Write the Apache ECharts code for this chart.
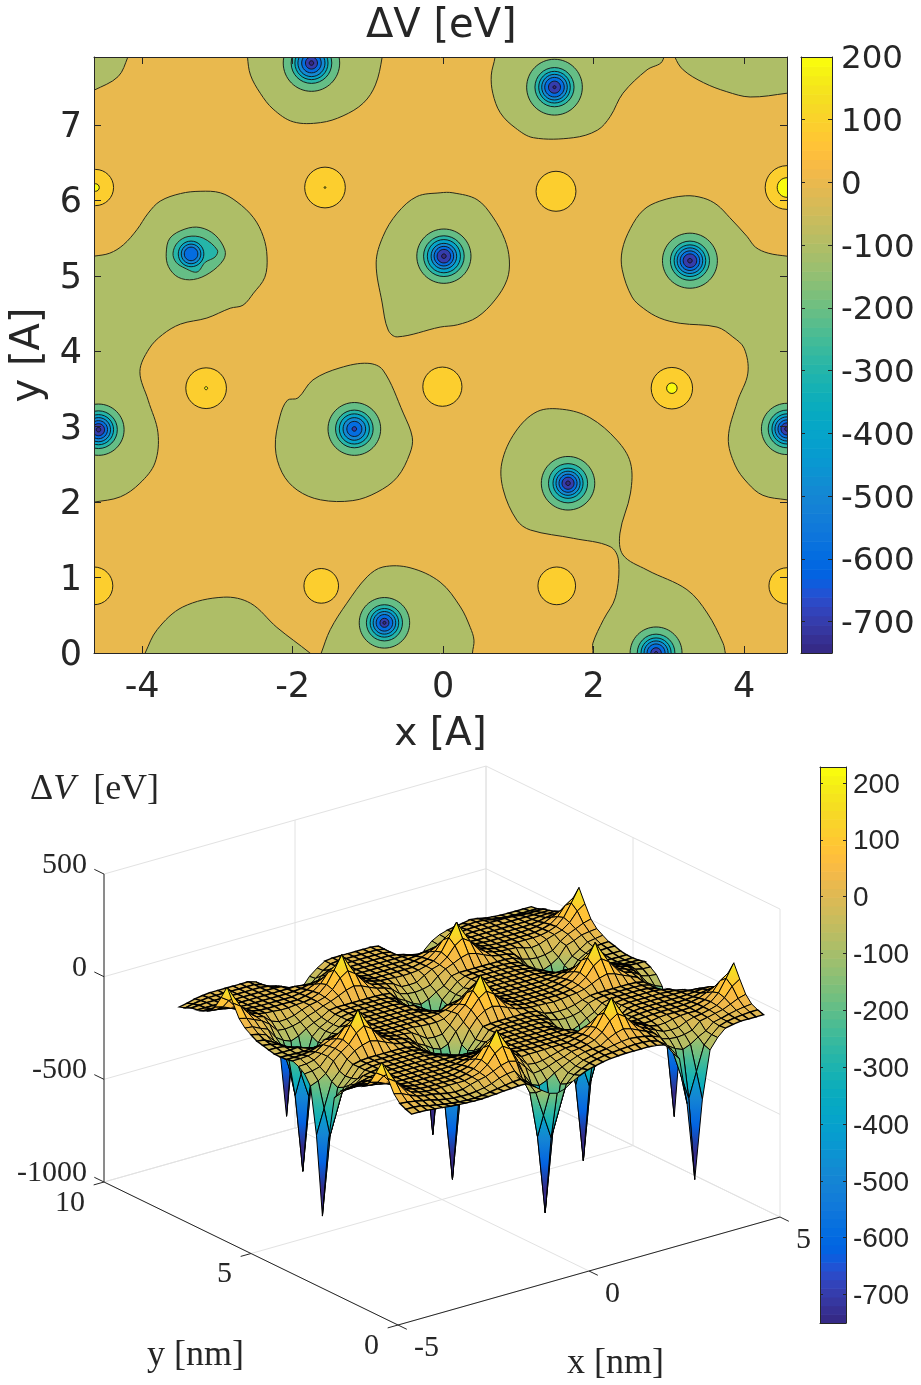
<!DOCTYPE html>
<html><head><meta charset="utf-8">
<style>html,body{margin:0;padding:0;background:#fff}#c{width:921px;height:1385px}</style>
<script src="https://cdn.jsdelivr.net/npm/echarts@6/dist/echarts.min.js"></script>
</head><body><div id="c"></div>
<script>
// ---------- tick labels ----------
const mapXTicks=[-4,-2,0,2,4];
const mapYTicks=[0,1,2,3,4,5,6,7];
const barTicks=[200,100,0,-100,-200,-300,-400,-500,-600,-700];
const surfXTicks=[-5,0,5];
const surfYTicks=[0,5,10];
const surfZTicks=[-1000,-500,0,500];

// ---------- zero-level contour regions (x, y in angstrom) ----------
const lobeA=[[-4.8,7.4],[-4.64,7.46],[-4.32,7.64],[-4.19,7.9],[-4.15,8.05],[-4.8,8.05]];
const lobeB=[[-2.6,8.05],[-2.6,7.9],[-2.56,7.66],[-2.43,7.42],[-2.26,7.21],[-1.99,7.04],[-1.63,7.03],[-1.33,7.12],[-1.06,7.29],[-.9,7.53],[-.81,7.9],[-.81,8.05]];
const lobeC=[[.69,8.05],[.69,7.9],[.64,7.66],[.66,7.42],[.76,7.16],[.96,6.96],[1.2,6.83],[1.73,6.83],[2.05,6.93],[2.22,7.11],[2.39,7.42],[2.71,7.73],[2.91,7.84],[2.91,8.05]];
const lobeD=[[3.05,8.05],[3.08,7.9],[3.19,7.73],[3.46,7.56],[3.77,7.44],[4.08,7.37],[4.57,7.42],[4.75,7.45],[4.75,8.05]];
const lobeE=[[-4.8,5.24],[-4.64,5.26],[-4.43,5.3],[-4.25,5.41],[-4.07,5.61],[-3.92,5.83],[-3.76,5.99],[-3.49,6.09],[-3.23,6.12],[-2.96,6.1],[-2.74,5.98],[-2.52,5.77],[-2.39,5.52],[-2.34,5.25],[-2.37,4.98],[-2.52,4.77],[-2.66,4.61],[-2.83,4.57],[-3.14,4.44],[-3.49,4.36],[-3.73,4.22],[-3.91,4.03],[-4.03,3.73],[-3.92,3.35],[-3.79,2.92],[-3.83,2.52],[-4.03,2.25],[-4.29,2.07],[-4.64,2],[-4.8,1.98]];
const lobeF=[[-.04,6.1],[-.35,6.05],[-.61,5.83],[-.8,5.52],[-.89,5.17],[-.81,4.64],[-.73,4.28],[-.61,4.19],[-.04,4.32],[.19,4.35],[.45,4.45],[.69,4.68],[.85,4.95],[.88,5.21],[.82,5.48],[.66,5.78],[.45,6.01],[.13,6.1]];
const lobeG=[[4.75,5.24],[4.57,5.26],[4.32,5.3],[4.15,5.38],[4.04,5.52],[3.81,5.77],[3.64,5.94],[3.46,6.03],[3.22,6.06],[2.88,5.99],[2.66,5.87],[2.49,5.63],[2.38,5.34],[2.38,5.08],[2.51,4.72],[2.66,4.57],[2.88,4.44],[3.15,4.37],[3.64,4.32],[3.85,4.19],[4,4.04],[4.05,3.71],[3.91,3.33],[3.79,2.85],[3.88,2.49],[4.05,2.25],[4.25,2.09],[4.57,2.03],[4.75,2.01]];
const lobeH=[[-.8,3.75],[-1,3.84],[-1.37,3.78],[-1.73,3.62],[-1.93,3.38],[-2.07,3.35],[-2.17,3.13],[-2.23,2.73],[-2.14,2.39],[-1.94,2.16],[-1.63,2.03],[-1.2,2.02],[-.88,2.13],[-.61,2.33],[-.44,2.65],[-.41,2.86],[-.53,3.18]];
const lobeI=[[1.95,-.15],[1.99,0],[1.99,.13],[2.13,.44],[2.29,.74],[2.33,1.23],[2.22,1.41],[1.73,1.52],[1.16,1.63],[.98,1.76],[.8,2.16],[.78,2.52],[.96,2.93],[1.25,3.2],[1.59,3.23],[1.95,3.12],[2.31,2.82],[2.49,2.52],[2.49,2.12],[2.35,1.59],[2.39,1.3],[2.71,1.1],[3.24,.84],[3.51,.53],[3.72,.13],[3.75,0],[3.78,-.15]];
const lobeJ=[[-1.68,-.15],[-1.62,0],[-1.5,.31],[-1.28,.66],[-1.01,1.01],[-.8,1.14],[-.44,1.13],[-.04,.94],[.23,.61],[.36,.34],[.41,.17],[.39,0],[.39,-.15]];
const lobeK=[[-4.02,-.15],[-3.96,0],[-3.8,.31],[-3.46,.61],[-2.92,.74],[-2.56,.66],[-2.21,.34],[-1.77,0],[-1.6,-.15]];
const lobes=[lobeA,lobeB,lobeC,lobeD,lobeE,lobeF,lobeG,lobeH,lobeI,lobeJ,lobeK];
// the one well whose outer contours are not round
const well3Contour100=[[-3.68,5.3],[-3.63,5.5],[-3.43,5.62],[-3.23,5.64],[-3.03,5.54],[-2.9,5.34],[-2.92,5.21],[-3.1,5.04],[-3.32,4.95],[-3.52,4.98],[-3.65,5.12]];
const well3Contour200=[[-3.59,5.3],[-3.53,5.44],[-3.39,5.52],[-3.19,5.5],[-3,5.34],[-3.03,5.25],[-3.16,5.18],[-3.27,5.05],[-3.43,5.1],[-3.55,5.18]];

// ---------- wells: centre and contour radii at -100 ... -700 ----------
const ringLevels=[-100,-200,-300,-400,-500,-600,-700];
const wellX=[-1.75,1.48,-3.35,.01,3.28,-4.58,4.57,-1.18,1.66,-.78,2.83];
const wellY=[7.82,7.5,5.29,5.26,5.2,2.96,2.97,2.97,2.25,.4,0];
const wellRadii=[
[.375,.27,.22,.18,.13,.08,.03],[.37,.26,.21,.17,.13,.08,.02],[0,0,.17,.13,.09,0,0],
[.36,.27,.22,.17,.13,.09,.03],[.365,.26,.21,.17,.13,.09,.03],[.34,.25,.2,.16,.12,.08,.03],
[.34,.25,.2,.16,.12,.08,.03],[.35,.25,.2,.15,.1,.03,0],[.355,.26,.2,.16,.12,.08,.03],
[.335,.24,.19,.15,.11,.06,.02],[.345,.25,.2,.16,.12,.07,.02]];

// ---------- positive bumps: centre and radii of the +100 and +200 contours ----------
const bumpX=[-4.62,-1.57,1.5,4.57,-3.15,-.01,3.04,-4.64,-1.62,1.51,4.57];
const bumpY=[6.17,6.17,6.12,6.17,3.51,3.53,3.51,.89,.89,.89,.89];
const bumpR100=[.24,.27,.265,.29,.27,.26,.275,.25,.23,.25,.24];
const bumpR200=[.05,.012,0,.13,.02,0,.07,0,0,0,0];

// ---------- surface height rows, bottom row first; 47 samples along x, 40 rows along y ----------
const zRow00=[8,8,6,2,-2,-6,-10,-12,-14,-14,-12,-10,-6,-4,-1,-2,-25,-55,-80,-90,-80,-55,-35,-18,-10,-1,5,8,10,10,10,10,6,-2,-35,-90,-320,-700,-320,-90,-40,-5,3,8,8,8,8];
const zRow01=[18,17,14,3,-3,-10,-15,-20,-22,-22,-20,-14,-8,-2,4,6,-20,-80,-200,-320,-200,-80,-46,-26,-10,-1,6,10,14,17,18,17,14,2,-25,-80,-200,-320,-200,-80,-40,-8,4,10,14,17,18];
const zRow02=[32,28,22,14,8,-4,-10,-15,-18,-18,-14,-8,2,18,28,32,-15,-95,-320,-700,-320,-95,-50,-28,-10,-1,8,14,22,28,32,28,22,12,-3,-55,-80,-95,-80,-55,-36,-4,4,14,22,28,32];
const zRow03=[65,55,38,22,14,10,2,-6,-10,-8,4,14,22,38,55,65,55,-20,-80,-95,-80,-55,-36,-18,-4,6,10,14,38,55,65,55,38,22,2,-36,-46,-50,-46,-36,-3,5,14,22,38,55,65];
const zRow04=[125,100,55,28,17,10,8,8,8,8,8,17,28,55,100,125,100,30,-10,-50,-46,-36,-22,-12,3,8,17,28,55,100,125,100,55,28,10,-8,-25,-28,-26,-8,3,8,17,28,55,100,125];
const zRow05=[190,125,65,32,18,10,8,8,8,8,10,18,32,65,125,190,125,65,20,-20,-26,-22,-12,-2,6,8,18,32,65,125,190,125,65,32,16,-2,-10,-8,0,6,8,8,18,32,65,125,190];
const zRow06=[125,100,55,28,17,10,8,8,8,8,8,17,28,55,100,125,100,55,28,3,5,5,6,8,8,8,17,28,55,100,125,100,55,28,12,-3,-2,5,8,8,8,10,17,28,55,100,125];
const zRow07=[65,55,38,22,14,10,8,8,8,8,8,14,22,38,55,65,55,38,22,14,10,8,8,8,8,8,14,22,38,55,65,55,38,22,2,1,4,6,8,8,8,10,14,22,38,55,65];
const zRow08=[32,28,22,14,10,8,8,8,8,8,8,10,14,22,28,32,28,22,14,10,8,8,8,8,8,8,8,8,2,-15,-46,-50,-46,-36,-18,1,5,8,8,8,8,8,10,14,22,28,32];
const zRow09=[18,17,14,10,8,8,8,8,8,8,8,8,10,14,17,18,17,14,10,8,8,8,8,8,8,8,8,8,-3,-45,-80,-95,-80,-55,-36,-3,4,8,8,8,8,8,8,10,14,17,18];
const zRow10=[-3,3,8,8,8,8,8,8,8,8,8,8,8,8,5,3,1,1,3,5,8,8,8,8,8,8,8,-2,-30,-80,-200,-320,-200,-80,-46,-22,3,8,8,8,8,8,8,8,6,3,-2];
const zRow11=[-28,-26,-8,2,5,8,8,8,8,8,8,8,8,1,-8,-18,-26,-28,-26,-18,3,8,8,8,8,8,5,-4,-50,-95,-320,-700,-320,-95,-50,-28,4,8,8,8,8,8,5,3,-4,-26,-28];
const zRow12=[-50,-46,-36,-6,2,6,8,8,8,8,8,8,2,-6,-18,-36,-46,-50,-46,-10,2,8,8,8,8,8,8,2,-20,-80,-200,-320,-200,-80,-46,-8,3,8,8,8,8,8,3,-6,-36,-46,-50];
const zRow13=[-95,-80,-55,-36,-3,6,8,8,8,8,8,6,-2,-18,-36,-55,-80,-95,-80,-55,-36,2,8,8,8,8,8,3,-6,-55,-80,-95,-80,-55,-36,-3,5,8,8,8,8,5,-3,-36,-55,-80,-95];
const zRow14=[-320,-200,-80,-46,-3,5,8,8,8,8,8,5,-3,-26,-46,-80,-200,-320,-200,-80,-46,-2,6,8,8,8,8,6,-3,-36,-46,-50,-46,-36,-8,3,8,8,8,8,8,6,-2,-46,-80,-200,-320];
const zRow15=[-700,-320,-95,-50,-4,5,8,8,8,8,8,5,-3,-28,-50,-95,-320,-700,-320,-95,-50,2,6,8,8,8,8,8,4,-18,-26,-28,-26,-18,-5,5,8,8,8,8,8,6,-2,-50,-95,-320,-700];
const zRow16=[-320,-200,-80,-40,8,38,55,65,55,38,22,10,8,-15,-46,-80,-200,-320,-200,-80,-15,30,55,65,55,38,22,14,8,6,5,2,5,10,14,22,38,55,65,55,38,22,6,-40,-80,-200,-320];
const zRow17=[-95,-80,-55,-5,28,55,100,125,100,55,28,17,10,-2,-36,-55,-80,-95,-80,-30,6,55,100,125,100,55,28,17,10,8,8,8,8,10,17,28,55,100,125,100,55,28,17,-5,-55,-80,-95];
const zRow18=[-50,-46,-36,4,32,65,125,190,125,65,32,18,10,8,3,-20,-46,-50,-46,-12,32,65,125,190,125,65,32,18,10,8,8,8,8,10,18,32,65,125,190,125,65,32,18,2,-36,-46,-50];
const zRow19=[-28,-26,-18,3,28,55,100,125,100,55,28,17,10,8,8,5,1,-2,-2,4,28,55,100,125,100,55,28,17,10,8,8,8,8,10,17,28,55,100,125,100,55,28,17,8,-18,-26,-28];
const zRow20=[-15,-15,-12,-3,22,38,55,65,55,38,22,14,10,8,8,8,8,8,8,14,22,38,55,65,55,38,22,14,10,8,8,8,8,8,14,22,38,55,65,55,38,22,14,2,-12,-15,-15];
const zRow21=[-22,-22,-20,-15,-3,22,28,32,28,22,14,10,8,8,8,8,8,8,8,6,2,22,28,32,28,22,14,10,8,8,8,8,8,8,10,14,22,28,32,28,22,14,3,-8,-20,-22,-22];
const zRow22=[-25,-26,-28,-28,-25,-20,-10,3,12,10,8,8,8,8,8,8,8,8,8,1,-10,-18,-20,-15,-10,3,8,8,8,8,8,8,8,8,8,8,8,8,0,-5,-10,-12,-15,-20,-24,-26,-25];
const zRow23=[-25,-26,-25,-22,-36,-46,-50,-46,-36,-3,3,8,8,8,8,8,8,8,4,-8,-22,-36,-46,-50,-46,-36,-2,6,8,8,8,8,8,8,8,3,-3,-36,-46,-50,-46,-36,-18,-20,-24,-25,-25];
const zRow24=[-18,-18,-22,-36,-55,-80,-95,-80,-55,-36,-5,3,8,8,8,8,8,8,6,-1,-25,-55,-80,-95,-80,-55,-20,1,8,8,8,8,8,8,8,1,-12,-55,-80,-95,-80,-55,-36,-20,-20,-20,-20];
const zRow25=[-10,-15,-26,-46,-80,-200,-320,-200,-80,-46,-26,-2,5,8,8,8,8,8,3,-18,-46,-80,-200,-320,-200,-80,-46,-18,4,8,8,8,8,8,4,-2,-46,-80,-200,-320,-200,-80,-46,-26,-12,-10,-10];
const zRow26=[-3,-8,-28,-50,-95,-320,-700,-320,-95,-50,-28,-2,6,8,8,8,8,8,3,-28,-50,-95,-320,-700,-320,-95,-50,-28,3,8,8,8,8,8,5,-2,-50,-95,-320,-700,-320,-95,-50,-28,-8,-4,-3];
const zRow27=[14,6,-8,-46,-80,-200,-320,-200,-80,-46,-26,-3,6,8,8,8,8,8,4,-12,-46,-80,-200,-320,-200,-80,-46,-12,4,8,8,8,8,8,5,-2,-46,-80,-200,-320,-200,-80,-46,-22,2,8,14];
const zRow28=[32,28,10,-5,-55,-80,-95,-80,-55,-36,-20,3,8,8,8,8,8,8,6,1,-36,-55,-80,-95,-80,-55,-36,2,8,8,8,8,8,8,8,5,-12,-55,-80,-95,-80,-55,-8,5,22,28,32];
const zRow29=[65,55,38,22,-5,-46,-50,-46,-36,-18,-6,10,22,38,55,65,55,38,22,14,-3,-36,-46,-50,-46,-36,-3,22,38,55,65,55,38,22,14,10,-2,-36,-46,-50,-46,-36,-2,22,38,55,65];
const zRow30=[125,100,55,28,17,-15,-28,-26,-18,-2,10,17,28,55,100,125,100,55,28,17,10,-2,-26,-28,-26,-3,17,28,55,100,125,100,55,28,17,10,8,6,-6,-15,-10,4,17,28,55,100,125];
const zRow31=[190,125,65,32,18,10,8,4,4,8,10,18,32,65,125,190,125,65,32,18,10,8,4,3,4,8,18,32,65,125,190,125,65,32,18,10,8,8,8,8,8,10,18,32,65,125,190];
const zRow32=[125,100,55,28,17,10,8,8,8,8,8,17,28,55,100,125,100,55,28,17,8,8,8,8,8,8,17,28,55,100,125,100,55,28,17,10,8,8,8,8,8,10,17,28,55,100,125];
const zRow33=[65,55,38,22,14,10,8,8,8,8,8,14,22,38,55,65,55,38,22,14,8,8,8,8,8,8,14,22,38,55,65,55,38,22,14,10,8,8,8,8,8,10,14,22,38,55,65];
const zRow34=[32,28,22,14,10,8,8,8,8,8,8,10,14,22,28,32,28,22,14,10,8,8,8,8,8,8,10,14,22,28,30,26,20,14,10,8,8,8,8,8,8,8,10,14,22,28,32];
const zRow35=[18,17,14,10,8,8,8,8,8,8,8,8,10,5,2,3,8,10,8,8,8,8,8,8,8,8,8,5,-2,-35,-45,-40,-20,-5,6,8,8,8,8,8,8,8,8,10,14,17,18];
const zRow36=[8,8,8,8,8,8,8,8,8,8,8,6,-10,-46,-50,-46,-15,-2,6,8,8,8,8,8,8,8,3,-6,-55,-80,-95,-80,-55,-36,-5,5,8,8,8,8,8,8,8,8,8,8,8];
const zRow37=[3,6,8,8,8,8,8,8,8,8,4,-6,-55,-80,-95,-80,-55,-20,-1,5,8,8,8,8,8,8,2,-46,-80,-200,-320,-200,-80,-46,-20,1,6,8,8,8,8,8,6,2,0,0,1];
const zRow38=[-10,-2,4,8,8,8,8,8,8,8,-2,-46,-80,-200,-320,-200,-80,-46,-18,4,8,8,8,8,8,8,2,-35,-95,-320,-700,-320,-95,-50,-28,-12,1,6,8,5,-1,-6,-10,-12,-12,-12,-12];
const zRow39=[-20,-12,-2,4,8,8,8,8,8,8,-3,-50,-95,-320,-700,-320,-95,-50,-20,3,8,8,8,8,8,8,3,-46,-80,-200,-320,-200,-80,-46,-26,-15,-8,-2,5,0,-8,-12,-15,-16,-16,-16,-16];
const zRows=[zRow00,zRow01,zRow02,zRow03,zRow04,zRow05,zRow06,zRow07,zRow08,zRow09,zRow10,zRow11,zRow12,zRow13,zRow14,zRow15,zRow16,zRow17,zRow18,zRow19,zRow20,zRow21,zRow22,zRow23,zRow24,zRow25,zRow26,zRow27,zRow28,zRow29,zRow30,zRow31,zRow32,zRow33,zRow34,zRow35,zRow36,zRow37,zRow38,zRow39];

// ---------- parula colormap ----------
const parula=[[.2081,.1663,.5292],[.2116,.1898,.5777],[.2123,.2138,.627],[.2081,.2386,.6771],[.1959,.2645,.7279],[.1707,.2919,.7792],[.1253,.3242,.8303],[.0591,.3598,.8683],[.0117,.3875,.882],[.006,.4086,.8828],[.0165,.4266,.8786],[.0329,.443,.872],[.0498,.4586,.8641],[.0629,.4737,.8554],[.0723,.4887,.8467],[.0779,.504,.8384],[.0793,.52,.8312],[.0749,.5375,.8263],[.0641,.557,.824],[.0488,.5772,.8228],[.0343,.5966,.8199],[.0265,.6137,.8135],[.0239,.6287,.8038],[.0231,.6418,.7913],[.0228,.6535,.7768],[.0267,.6642,.7607],[.0384,.6743,.7436],[.059,.6838,.7254],[.0843,.6928,.7062],[.1133,.7015,.6859],[.1453,.7098,.6646],[.1801,.7177,.6424],[.2178,.725,.6193],[.2586,.7317,.5954],[.3022,.7376,.5712],[.3482,.7424,.5473],[.3953,.7459,.5244],[.442,.7481,.5033],[.4871,.7491,.484],[.53,.7491,.4661],[.5709,.7485,.4494],[.6099,.7473,.4337],[.6473,.7456,.4188],[.6834,.7435,.4044],[.7184,.7411,.3905],[.7525,.7384,.3768],[.7858,.7356,.3633],[.8185,.7327,.3498],[.8507,.7299,.336],[.8824,.7274,.3217],[.9139,.7258,.3063],[.945,.7261,.2886],[.9739,.7314,.2666],[.9938,.7455,.2403],[.999,.7653,.2164],[.9955,.7861,.1967],[.988,.8066,.1794],[.9789,.8271,.1633],[.9697,.8481,.1475],[.9626,.8705,.1309],[.9589,.8949,.1132],[.9598,.9218,.0948],[.9661,.9514,.0755],[.9763,.9831,.0538]];
const rgbOf=c=>`rgb(${c.map(v=>Math.round(v*255)).join(',')})`;
const MAP_MIN=-750, MAP_MAX=200, SURF_MAX=228;
const colorAt=(v,hi)=>rgbOf(parula[Math.max(0,Math.min(63,Math.round((v-MAP_MIN)/(hi-MAP_MIN)*63)))]);

// ---------- surface view fitted to the box corners ----------
const viewU=(x,y)=>398+38.2*(x+5)-29.4*y;
const viewV=(x,y,z)=>60+10.8*(x+5)+14.3*y+.2053*(z+1000);
const view=(x,y,z)=>[viewU(x,y),viewV(x,y,z)];

const chart=echarts.init(document.getElementById('c'),null,{renderer:'canvas'});
const INK='#262626', SANS='DejaVu Sans', SERIF='Liberation Serif', ARIAL='Liberation Sans';

const boxAxis=(grid,pos,o)=>Object.assign({type:'value',gridIndex:grid,position:pos,z:20,splitLine:{show:false},
  axisLine:{show:true,onZero:false,lineStyle:{color:INK,width:1}},
  axisTick:{show:false},axisLabel:{show:false}},o);
const ticks=(vals,len)=>({axisTick:{show:true,inside:true,length:len,customValues:vals,lineStyle:{color:INK,width:1}}});
const labels=(vals,font,size,margin,drop)=>({axisLabel:Object.assign({show:true,customValues:vals,fontFamily:font,fontSize:size,color:INK,margin,formatter:v=>String(v)},
  drop?{verticalAlign:'top',lineHeight:drop*2}:{})});

const mapX={min:-4.64,max:4.57}, mapY={min:0,max:7.9};
const option={
  animation:false,backgroundColor:'#fff',
  grid:[
    {left:94,top:57,width:693,height:596,show:true,backgroundColor:colorAt(0,MAP_MAX),borderWidth:0},
    {left:801,top:57,width:31,height:596},
    {left:0,top:760,width:921,height:625},
    {left:820,top:767,width:26,height:556}
  ],
  xAxis:[
    boxAxis(0,'bottom',{...mapX,...ticks(mapXTicks,7),...labels(mapXTicks,SANS,35,17),name:'x [A]',nameLocation:'middle',nameGap:62,nameTextStyle:{fontFamily:SANS,fontSize:39,color:INK}}),
    boxAxis(0,'top',{...mapX,...ticks(mapXTicks,7)}),
    boxAxis(1,'bottom',{min:0,max:1}),
    boxAxis(1,'top',{min:0,max:1}),
    {type:'value',gridIndex:2,min:0,max:921,show:false},
    boxAxis(3,'bottom',{min:0,max:1}),
    boxAxis(3,'top',{min:0,max:1})
  ],
  yAxis:[
    boxAxis(0,'left',{...mapY,...ticks(mapYTicks,7),...labels(mapYTicks,SANS,35,12,3),name:'y [A]',nameLocation:'middle',nameGap:39,nameRotate:90,nameTextStyle:{fontFamily:SANS,fontSize:40,color:INK}}),
    boxAxis(0,'right',{...mapY,...ticks(mapYTicks,7)}),
    boxAxis(1,'right',{min:MAP_MIN,max:MAP_MAX,...ticks(barTicks,4),...labels(barTicks,SANS,32.5,9,3)}),
    boxAxis(1,'left',{min:MAP_MIN,max:MAP_MAX,...ticks(barTicks,4)}),
    {type:'value',gridIndex:2,min:0,max:625,show:false},
    boxAxis(3,'right',{min:MAP_MIN,max:SURF_MAX,...ticks(barTicks,3),...labels(barTicks,ARIAL,28,7,2)}),
    boxAxis(3,'left',{min:MAP_MIN,max:SURF_MAX,...ticks(barTicks,3)})
  ],
  graphic:[
    {type:'text',left:366,top:7,z:30,style:{text:'ΔV [eV]',font:`40px "${SANS}"`,fill:INK}},
    {type:'text',left:30,top:772,z:30,style:{text:'{a|Δ}{b|V}{a|  [eV]}',fill:INK,rich:{
      a:{fontFamily:SERIF,fontSize:36,fill:INK,color:INK},b:{fontFamily:SERIF,fontStyle:'italic',fontSize:36,fill:INK,color:INK}}}},
    {type:'text',left:147,top:1338,z:30,style:{text:'y [nm]',font:`36px "${SERIF}"`,fill:INK}},
    {type:'text',left:567,top:1346,z:30,style:{text:'x [nm]',font:`36px "${SERIF}"`,fill:INK}}
  ],
  series:[]
};

// --- map: regions below zero
const fills=lobes.map(l=>({pts:l,level:-100,smooth:.35})).concat(
  [{pts:well3Contour100,level:-200,smooth:.35},{pts:well3Contour200,level:-300,smooth:.35}]);
option.series.push({type:'custom',coordinateSystem:'cartesian2d',xAxisIndex:0,yAxisIndex:0,clip:true,z:2,
  data:fills.map(f=>f.pts[0]),
  renderItem:(p,api)=>{const f=fills[p.dataIndex];
    return {type:'polygon',shape:{points:f.pts.map(q=>api.coord(q)),smooth:f.smooth},
    style:{fill:colorAt(f.level,MAP_MAX),stroke:'#2a2a1a',lineWidth:1}};}});
// --- map: nested contours
const rings=[];
wellX.forEach((x,w)=>wellRadii[w].forEach((r,k)=>{if(r>0)rings.push([x,wellY[w],r,ringLevels[k]-100]);}));
bumpX.forEach((x,b)=>{rings.push([x,bumpY[b],bumpR100[b],100]);if(bumpR200[b]>0)rings.push([x,bumpY[b],bumpR200[b],200]);});
option.series.push({type:'custom',coordinateSystem:'cartesian2d',xAxisIndex:0,yAxisIndex:0,clip:true,z:3,
  data:rings,
  renderItem:(p,api)=>{const c=api.coord([api.value(0),api.value(1)]),s=api.size([api.value(2),api.value(2)]);
    return {type:'ellipse',shape:{cx:c[0],cy:c[1],rx:s[0],ry:s[1]},
      style:{fill:colorAt(api.value(3),MAP_MAX),stroke:'#111',lineWidth:.9}};}});
// --- colour bars
const barSeries=(xi,yi,hi)=>({type:'custom',coordinateSystem:'cartesian2d',xAxisIndex:xi,yAxisIndex:yi,clip:true,z:2,
  data:parula.map((_,i)=>[0,MAP_MIN+(hi-MAP_MIN)*i/64,MAP_MIN+(hi-MAP_MIN)*(i+1)/64]),
  renderItem:(p,api)=>{const a=api.coord([0,api.value(2)]),b=api.coord([1,api.value(1)]);
    return {type:'rect',shape:{x:a[0],y:a[1],width:b[0]-a[0],height:b[1]-a[1]+.6},style:{fill:rgbOf(parula[p.dataIndex])}};}});
option.series.push(barSeries(2,2,MAP_MAX));
option.series.push(barSeries(5,5,SURF_MAX));

// --- surface box: grid lines on the two back walls and the floor
const [xA,xM,xB]=surfXTicks,[yA,yM,yB]=surfYTicks,zLo=surfZTicks[0],zHi=surfZTicks[surfZTicks.length-1];
const gridSegs=[];
surfXTicks.forEach(x=>{gridSegs.push([x,yB,zLo,x,yB,zHi]);gridSegs.push([x,yA,zLo,x,yB,zLo]);});
surfYTicks.forEach(y=>{gridSegs.push([xB,y,zLo,xB,y,zHi]);gridSegs.push([xA,y,zLo,xB,y,zLo]);});
surfZTicks.forEach(z=>{gridSegs.push([xA,yB,z,xB,yB,z]);gridSegs.push([xB,yA,z,xB,yB,z]);});
const segSeries=(segs,stroke,z)=>({type:'custom',coordinateSystem:'cartesian2d',xAxisIndex:4,yAxisIndex:4,clip:false,z,
  data:segs.map(s=>view(s[0],s[1],s[2])),
  renderItem:(p,api)=>{const s=segs[p.dataIndex],a=api.coord(view(s[0],s[1],s[2])),b=api.coord(view(s[3],s[4],s[5]));
    return {type:'line',shape:{x1:a[0],y1:a[1],x2:b[0],y2:b[1]},style:{stroke,lineWidth:1}};}});
option.series.push(segSeries(gridSegs,'#e2e2e2',2));
const axisSegs=[[xA,yA,zLo,xB,yA,zLo],[xA,yA,zLo,xA,yB,zLo],[xA,yB,zLo,xA,yB,zHi]];
surfXTicks.forEach(x=>axisSegs.push([x,yA,zLo,x,yA-.3,zLo]));
surfYTicks.forEach(y=>axisSegs.push([xA,y,zLo,xA-.27,y,zLo]));
surfZTicks.forEach(z=>axisSegs.push([xA,yB,z,xA,yB+.33,z]));
option.series.push(segSeries(axisSegs,INK,3));

// --- surface cells, far to near
const cells=[];
for(let j=zRows.length-2;j>=0;j--)for(let i=zRows[j].length-2;i>=0;i--)cells.push([i,j]);
const gx=i=>mapX.min+(mapX.max-mapX.min)*i/46, gy=j=>mapY.max*j/39;
option.series.push({type:'custom',coordinateSystem:'cartesian2d',xAxisIndex:4,yAxisIndex:4,clip:false,z:4,progressive:0,
  data:cells.map(c=>view(gx(c[0]),gy(c[1]),zRows[c[1]][c[0]])),
  renderItem:(p,api)=>{const [i,j]=cells[p.dataIndex];
    const zs=[zRows[j][i],zRows[j][i+1],zRows[j+1][i+1],zRows[j+1][i]];
    const pts=[[i,j],[i+1,j],[i+1,j+1],[i,j+1]].map((q,k)=>api.coord(view(gx(q[0]),gy(q[1]),zs[k])));
    const lo=Math.min(...zs),hi=Math.max(...zs);
    let fill=colorAt((zs[0]+zs[1]+zs[2]+zs[3])/4,SURF_MAX);
    if(hi-lo>70){const shift=hi<-40?.35*(hi-lo):0;
      const stops=[0,.25,.5,.75,1].map(t=>({offset:t,color:colorAt(hi+(lo-hi)*t-shift,SURF_MAX)}));
      fill={type:'linear',x:0,y:0,x2:0,y2:1,colorStops:stops};}
    const ys=pts.map(q=>q[1]),tall=Math.max(...ys)-Math.min(...ys);
    return {type:'polygon',shape:{points:pts},style:{fill,stroke:'#000',lineWidth:tall<7.5?1.4:1}};}});

// --- surface tick labels
const tickLabels=[];
surfZTicks.forEach(z=>tickLabels.push({p:[xA,yB,z],t:String(z),dx:-17,dy:-9,a:'right'}));
surfYTicks.forEach(y=>tickLabels.push({p:[xA,y,zLo],t:String(y),dx:-19,dy:21,a:'right'}));
surfXTicks.forEach(x=>tickLabels.push({p:[x,yA,zLo],t:String(x),dx:16,dy:23,a:'left'}));
option.series.push({type:'custom',coordinateSystem:'cartesian2d',xAxisIndex:4,yAxisIndex:4,clip:false,z:5,
  data:tickLabels.map(l=>view(...l.p)),
  renderItem:(p,api)=>{const l=tickLabels[p.dataIndex],c=api.coord(view(...l.p));
    return {type:'text',x:c[0]+l.dx,y:c[1]+l.dy,style:{text:l.t,font:`30px "${SERIF}"`,fill:INK,align:l.a,verticalAlign:'middle'}};}});

chart.setOption(option);
</script></body></html>
